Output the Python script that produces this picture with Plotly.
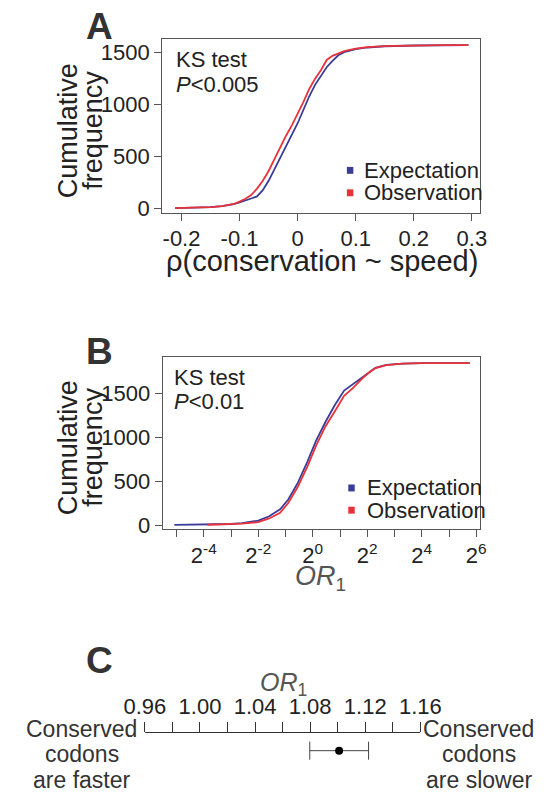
import numpy as np
import plotly.graph_objects as go

# ---------------- data ----------------
# Panel A: cumulative frequency of rho(conservation ~ speed)
rho_x = [-0.211, -0.18, -0.15, -0.13, -0.11, -0.10, -0.09, -0.08, -0.07, -0.06,
         -0.05, -0.04, -0.03, -0.02, -0.01, 0.00, 0.01, 0.02, 0.03, 0.04,
         0.05, 0.06, 0.07, 0.08, 0.10, 0.12, 0.15, 0.20, 0.25, 0.294]
rho_expectation = [2, 5, 12, 22, 40, 58, 80, 95, 115, 175,
                   265, 375, 490, 600, 710, 820, 950, 1080, 1190, 1280,
                   1360, 1420, 1475, 1505, 1535, 1550, 1562, 1569, 1572, 1572]
rho_observation = [2, 5, 12, 22, 42, 65, 92, 128, 190, 265,
                   360, 475, 590, 700, 800, 905, 1025, 1150, 1250, 1330,
                   1430, 1470, 1495, 1515, 1540, 1553, 1563, 1569, 1572, 1572]

# Panel B: cumulative frequency of OR1 (x read in log2 units)
or_log2_expectation = [-5.08, -4.5, -4.0, -3.5, -3.0, -2.6, -2.0, -1.6, -1.2, -0.9,
                       -0.55, -0.2, 0.13, 0.47, 0.8, 1.15, 1.48, 1.82, 2.1, 2.3,
                       2.7, 3.3, 4.0, 5.0, 5.76]
or_cum_expectation = [2, 3, 4, 6, 12, 22, 50, 100, 180, 290,
                      480, 720, 965, 1175, 1360, 1530, 1605, 1690, 1750, 1790,
                      1822, 1838, 1842, 1843, 1843]
or_log2_observation = [-3.87, -3.5, -3.0, -2.6, -2.0, -1.6, -1.2, -0.9, -0.55, -0.2,
                       0.13, 0.47, 0.8, 1.15, 1.48, 1.82, 2.1, 2.3, 2.7, 3.3,
                       4.0, 5.0, 5.76]
or_cum_observation = [3, 5, 10, 15, 34, 75, 140, 250, 435, 665,
                      910, 1125, 1290, 1470, 1560, 1670, 1745, 1785, 1820, 1838,
                      1842, 1843, 1843]

# Panel C: OR1 estimate with confidence interval
or1_estimate = [1.101]
or1_ci_low = [1.0797]
or1_ci_high = [1.1224]

# tick labels
a_xticks = [-0.2, -0.1, 0, 0.1, 0.2, 0.3]
a_xticktext = ["-0.2", "-0.1", "0", "0.1", "0.2", "0.3"]
cum_yticks = [0, 500, 1000, 1500]
b_powers = list(range(-5, 7))
c_ticks = [0.96, 0.98, 1.00, 1.02, 1.04, 1.06, 1.08, 1.10, 1.12, 1.14, 1.16]
c_ticktext = ["0.96", "", "1.00", "", "1.04", "", "1.08", "", "1.12", "", "1.16"]

# ---------------- style ----------------
W, H = 556, 801
FONT = "Liberation Sans, Arial, Helvetica, sans-serif"
BLUE = "#3a3c98"
RED = "#e8323a"
AXC = "#555555"
TXT = "#222222"


def px(x):
    return x / W


def py(y):
    return 1 - y / H


fig = go.Figure()

# Panel A
fig.add_trace(go.Scatter(x=rho_x, y=rho_expectation, mode="lines",
                         line=dict(color=BLUE, width=1.8), xaxis="x", yaxis="y",
                         showlegend=False))
fig.add_trace(go.Scatter(x=rho_x, y=rho_observation, mode="lines",
                         line=dict(color=RED, width=1.8), xaxis="x", yaxis="y",
                         showlegend=False))

# Panel B
fig.add_trace(go.Scatter(x=2.0 ** np.array(or_log2_expectation), y=or_cum_expectation,
                         mode="lines", line=dict(color=BLUE, width=1.8),
                         xaxis="x2", yaxis="y2", showlegend=False))
fig.add_trace(go.Scatter(x=2.0 ** np.array(or_log2_observation), y=or_cum_observation,
                         mode="lines", line=dict(color=RED, width=1.8),
                         xaxis="x2", yaxis="y2", showlegend=False))

# Panel C
fig.add_trace(go.Scatter(
    x=or1_estimate, y=[0.5], mode="markers",
    marker=dict(color="black", size=8),
    error_x=dict(type="data", symmetric=False,
                 array=[h - e for h, e in zip(or1_ci_high, or1_estimate)],
                 arrayminus=[e - l for e, l in zip(or1_estimate, or1_ci_low)],
                 width=9, thickness=1, color="#444444"),
    xaxis="x3", yaxis="y3", showlegend=False))

tickfont = dict(family=FONT, size=22, color=TXT)
common_axis = dict(showline=True, linecolor=AXC, linewidth=1, mirror=True,
                   ticks="outside", ticklen=7, tickcolor=AXC, tickwidth=1,
                   showgrid=False, zeroline=False, tickfont=tickfont)

b_lo = -5.507 * np.log10(2)
b_hi = 6.12 * np.log10(2)

fig.update_layout(
    width=W, height=H,
    margin=dict(l=0, r=0, t=0, b=0),
    paper_bgcolor="white", plot_bgcolor="white",
    font=dict(family=FONT, size=22, color=TXT),
    showlegend=False,
    xaxis=dict(domain=[px(152.7), px(496.7)], range=[-0.2333, 0.3143],
               tickvals=a_xticks, ticktext=a_xticktext, anchor="y",
               ticklabelstandoff=-2, **common_axis),
    yaxis=dict(domain=[py(215.7), py(39)], range=[-47.6, 1636],
               tickvals=cum_yticks, anchor="x", **common_axis),
    xaxis2=dict(domain=[px(153.3), px(496.0)], type="log", range=[b_lo, b_hi],
                tickvals=[2.0 ** k for k in b_powers],
                ticktext=[("2<sup>%d</sup>" % k) if k % 2 == 0 else "" for k in b_powers],
                anchor="y2", **common_axis),
    yaxis2=dict(domain=[py(535), py(361)], range=[-45, 1913],
                tickvals=cum_yticks, anchor="x2", **common_axis),
    xaxis3=dict(domain=[px(134), px(432)], range=[0.96, 1.16], side="top",
                tickvals=c_ticks, ticktext=c_ticktext, anchor="y3",
                showline=True, linecolor="#333333", linewidth=1, mirror=False,
                ticks="outside", ticklen=10, tickcolor="#333333", tickwidth=1,
                showgrid=False, zeroline=False,
                tickfont=dict(family=FONT, size=22, color=TXT)),
    yaxis3=dict(domain=[py(776.7), py(741.7)], range=[0, 1], visible=False, anchor="x3"),
)

ann = []


def text(x, y, s, size, color=TXT, xanchor="center", yanchor="middle", angle=0):
    ann.append(dict(x=px(x), y=py(y), xref="paper", yref="paper", text=s,
                    showarrow=False, xanchor=xanchor, yanchor=yanchor,
                    textangle=angle,
                    font=dict(family=FONT, size=size, color=color)))


# Panel letters
text(85, 27, "<b>A</b>", 37, "#333333")
text(85, 355, "<b>B</b>", 37, "#333333")
text(85, 668, "<b>C</b>", 37, "#333333")

# Y axis titles (two lines each)
for yc in (132, 452.6):
    text(50.5, yc, "Cumulative", 27, TXT, angle=-90)
    text(77, yc, "frequency", 27, TXT, angle=-90)

# X axis titles
text(326, 264, "ρ(conservation ~ speed)", 29, TXT)
text(324, 585, "<i>OR</i><sub>1</sub>", 27, "#555555")
text(284, 692, "<i>OR</i><sub>1</sub>", 25, "#555555")

# KS test notes
text(165.5, 60.5, "KS test", 22, TXT, xanchor="left")
text(165.5, 85.5, "<i>P</i>&lt;0.005", 22, TXT, xanchor="left")
text(163, 381.5, "KS test", 22, TXT, xanchor="left")
text(163, 406.5, "<i>P</i>&lt;0.01", 22, TXT, xanchor="left")

# Legends (manual: square swatch + label)
shapes = []
legend_rows = [
    (356.0, 369.0, 172.3, BLUE, "Expectation"),
    (356.0, 369.0, 195.0, RED, "Observation"),
    (357.5, 371.7, 493.5, BLUE, "Expectation"),
    (357.5, 371.7, 516.0, RED, "Observation"),
]
for sx, tx, yc, col, label in legend_rows:
    shapes.append(dict(type="rect", xref="paper", yref="paper",
                       x0=px(sx - 3.5), x1=px(sx + 3.5), y0=py(yc + 3.5), y1=py(yc - 3.5),
                       fillcolor=col, line=dict(width=0)))
    text(tx, yc, label, 22, TXT, xanchor="left")

# Panel C side texts
for xc, lines in ((65.5, ["Conserved", "codons", "are faster"]),
                  (495, ["Conserved", "codons", "are slower"])):
    for i, s in enumerate(lines):
        text(xc, 745 - 8.2 + 26 * i, s, 23, "#333333")

fig.update_layout(annotations=ann, shapes=shapes)

fig.write_html("out.html")
